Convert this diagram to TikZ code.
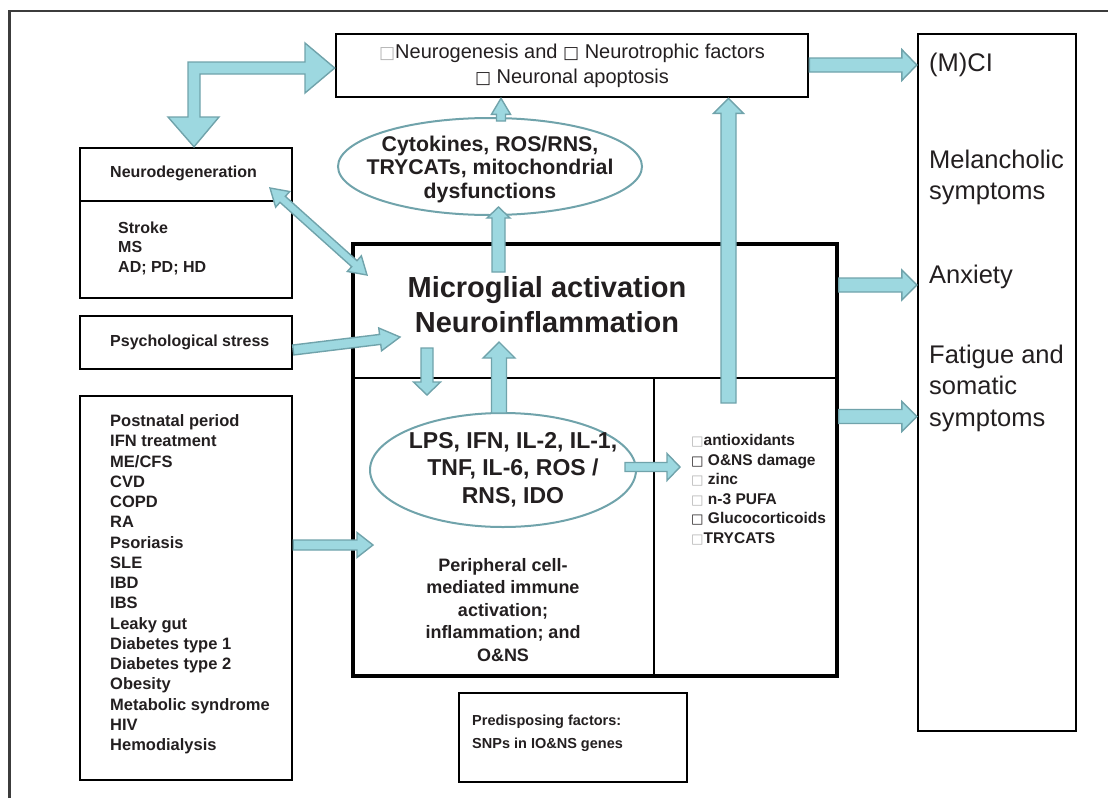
\documentclass[tikz,border=0pt]{standalone}
\usepackage{fontspec}
\usepackage{graphicx}
\setmainfont{Liberation Sans}
\newfontfamily\symf{DejaVu Sans}
\usetikzlibrary{calc,shapes.geometric}
\definecolor{afill}{RGB}{157,216,224}
\definecolor{adraw}{RGB}{112,163,171}
\definecolor{txt}{RGB}{35,31,32}
\definecolor{framec}{RGB}{60,60,60}
\newcommand\sqb{\scalebox{0.85}{\symf □}}
\newcommand\sqg{\textcolor{gray!60}{\scalebox{0.85}{\symf □}}}
% single block arrow: start, end, shaft half width, head half width, head length
\newcommand\barrow[5]{%
  \coordinate (bS) at (#1); \coordinate (bE) at (#2);
  \coordinate (bH) at ($(bE)!#5pt!(bS)$);
  \draw[blockarr] ($(bS)!#3pt!90:(bE)$) -- ($(bH)!#3pt!90:(bE)$) -- ($(bH)!#4pt!90:(bE)$) -- (bE)
    -- ($(bH)!#4pt!-90:(bE)$) -- ($(bH)!#3pt!-90:(bE)$) -- ($(bS)!#3pt!-90:(bE)$) -- cycle;}
% double block arrow
\newcommand\dbarrow[5]{%
  \coordinate (bS) at (#1); \coordinate (bE) at (#2);
  \coordinate (bH) at ($(bE)!#5pt!(bS)$);
  \coordinate (bG) at ($(bS)!#5pt!(bE)$);
  \draw[blockarr] (bS) -- ($(bG)!#4pt!90:(bE)$) -- ($(bG)!#3pt!90:(bE)$) -- ($(bH)!#3pt!90:(bE)$) -- ($(bH)!#4pt!90:(bE)$) -- (bE)
    -- ($(bH)!#4pt!-90:(bE)$) -- ($(bH)!#3pt!-90:(bE)$) -- ($(bG)!#3pt!-90:(bE)$) -- ($(bG)!#4pt!-90:(bE)$) -- cycle;}
\tikzset{
  blockarr/.style={fill=afill, draw=adraw, line width=1.4pt, line join=miter},
  box/.style={draw=black, line width=2.6pt, rectangle, inner sep=0pt},
  ell/.style={draw=adraw, line width=2pt, ellipse, inner sep=0pt},
  lbl/.style={inner sep=0pt, text=txt, align=left},
  cbl/.style={inner sep=0pt, text=txt, align=center},
}
\begin{document}
\begin{tikzpicture}[x=1pt, y=-1pt]
\useasboundingbox (0,0) rectangle (1108,798);
% outer frame (partly visible)
\draw[framec, line width=2.5pt] (9.5,798) -- (9.5,11) -- (1108,11);

% boxes
\node[box, minimum width=472, minimum height=63] (neurogen) at (572,65.5) {};
\node[cbl, font=\fontsize{20}{25}\selectfont] (neurogentxt) at (572,65.5)
  {\sqg Neurogenesis and \sqb\ Neurotrophic factors\\\sqb\ Neuronal apoptosis};

\node[box, line width=2.4pt, minimum width=158, minimum height=697] (outcomes) at (997,382.5) {};
\node[lbl, anchor=west, font=\fontsize{25.5}{31}\selectfont] (mci) at (929,65) {(M)CI};
\node[lbl, anchor=west, font=\fontsize{25.5}{31}\selectfont] (melan) at (929,177.5) {Melancholic\\symptoms};
\node[lbl, anchor=west, font=\fontsize{25.5}{31}\selectfont] (anx) at (929,277) {Anxiety};
\node[lbl, anchor=west, font=\fontsize{25.5}{31.5}\selectfont] (fatig) at (929,388) {Fatigue and\\somatic\\symptoms};

\node[box, line width=2.4pt, minimum width=212, minimum height=150] (neurodeg) at (186,223) {};
\draw[line width=2.4pt] (80,201) -- (292,201);
\node[lbl, anchor=west, font=\fontsize{16}{19.5}\bfseries] (ndtitle) at (110,173) {Neurodegeneration};
\node[lbl, anchor=west, font=\fontsize{16}{19.5}\bfseries] (ndlist) at (118,248) {Stroke\\MS\\AD; PD; HD};

\node[box, line width=2.4pt, minimum width=212, minimum height=53] (stress) at (186,342.5) {};
\node[lbl, anchor=west, font=\fontsize{16}{19.5}\bfseries] (stresstxt) at (110,342) {Psychological stress};

\node[box, line width=2.4pt, minimum width=212, minimum height=384] (diseases) at (186,588) {};
\node[lbl, anchor=north west, font=\fontsize{16.5}{20.25}\bfseries] (distxt) at (110,414.5)
  {Postnatal period\\IFN treatment\\ME/CFS\\CVD\\COPD\\RA\\Psoriasis\\SLE\\IBD\\IBS\\Leaky gut\\Diabetes type 1\\Diabetes type 2\\Obesity\\Metabolic syndrome\\HIV\\Hemodialysis};

\node[ell, minimum width=304, minimum height=97] (ell1) at (490,166.5) {};
\node[cbl, font=\fontsize{21.3}{23.5}\bfseries] (ell1txt) at (490,169)
  {Cytokines, ROS/RNS,\\TRYCATs, mitochondrial\\dysfunctions};

\node[box, line width=3.4pt, minimum width=484, minimum height=432] (main) at (595,460) {};
\draw[line width=2.2pt] (353,378) -- (837,378);
\draw[line width=2.2pt] (654,378) -- (654,676);
\node[cbl, font=\fontsize{29}{35}\bfseries] (maintitle) at (547,305) {Microglial activation\\Neuroinflammation};

\node[ell, fill=white, minimum width=266, minimum height=114] (ell2) at (503,470) {};
\node[cbl, font=\fontsize{23}{27.5}\bfseries] (ell2txt) at (513,469.5)
  {LPS, IFN, IL-2, IL-1,\\TNF, IL-6, ROS /\\RNS, IDO};
\node[cbl, font=\fontsize{18}{22.5}\bfseries] (periph) at (503,610)
  {Peripheral cell-\\mediated immune\\activation;\\inflammation; and\\O\&NS};
\node[lbl, anchor=west, font=\fontsize{15.5}{19.5}\bfseries] (effects) at (691,489.5)
  {\sqg antioxidants\\\sqb\ O\&NS damage\\\sqg\ zinc\\\sqg\ n-3 PUFA\\{\symf\bfseries\scalebox{0.85}{□}}\ Glucocorticoids\\\sqg TRYCATS};

\node[box, line width=2.6pt, minimum width=228, minimum height=89] (predis) at (573,737.5) {};
\node[lbl, anchor=west, font=\fontsize{14.5}{23}\bfseries] (predistxt) at (472,733.5)
  {Predisposing factors:\\SNPs in IO\&NS genes};

% elbow arrow neurogenesis <-> neurodegeneration
\draw[blockarr] (188,117) -- (188,62) -- (305,62) -- (305,43) -- (neurogen.west |- 0,68) -- (305,93) -- (305,74)
  -- (200,74) -- (200,117) -- (219,117) -- (194,0 |- neurodeg.north) -- (168,117) -- cycle;

% block arrows
\barrow{neurogen.east |- 0,65}{outcomes.west |- 0,65}{7}{15.5}{15}
\barrow{main.east |- 0,285}{outcomes.west |- 0,285}{7}{15}{15}
\barrow{main.east |- 0,416.5}{outcomes.west |- 0,416.5}{7}{15}{15}
\barrow{501,121}{neurogen.south -| 501,0}{4.5}{9.5}{16}
\barrow{498.5,272}{498.5,207}{6.5}{11.5}{11}
\dbarrow{270,188}{367,275}{4}{10.5}{17}
\barrow{stress.east |- 0,350}{400,337}{5}{11.5}{20}
\barrow{427,348}{427,395}{6}{13.5}{13}
\barrow{499,413}{499,342}{7.5}{16}{16}
\barrow{625,467}{680,467}{4.5}{13.5}{13}
\barrow{728.5,403}{neurogen.south -| 728.5,0}{7.5}{15}{15}
\barrow{diseases.east |- 0,545}{373,545}{5}{12.5}{16}
\end{tikzpicture}
\end{document}
